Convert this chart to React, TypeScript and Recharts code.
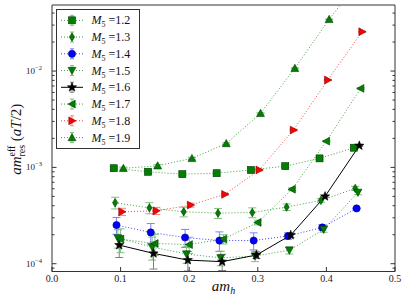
import React from "react";
import { LineChart, Line, XAxis, YAxis, ErrorBar, Legend } from "recharts";

// am_h values and the small horizontal shift each M5 series gets in the plot
const amH = [0.1, 0.15, 0.2, 0.25, 0.3, 0.35, 0.4, 0.45];
const xShift = [-0.01, -0.008, -0.006, -0.004, -0.002, 0, 0.002, 0.004];
const m5Labels = ["1.2", "1.3", "1.4", "1.5", "1.6", "1.7", "1.8", "1.9"];

// am_res^eff values
const mres12 = [9.8e-4, 9.0e-4, 8.5e-4, 8.7e-4, 9.4e-4, 1.03e-3, 1.24e-3, 1.6e-3];
const mres13 = [4.3e-4, 3.8e-4, 3.46e-4, 3.35e-4, 3.4e-4, 3.87e-4, 4.54e-4, 6.05e-4];
const mres14 = [2.52e-4, 2.11e-4, 1.87e-4, 1.74e-4, 1.74e-4, 1.94e-4, 2.38e-4, 3.75e-4];
const mres15 = [1.85e-4, 1.49e-4, 1.26e-4, 1.15e-4, 1.2e-4, 1.38e-4, 2.27e-4, 5.5e-4];
const mres16 = [1.56e-4, 1.28e-4, 1.09e-4, 1.05e-4, 1.23e-4, 1.98e-4, 5.0e-4, 1.68e-3];
const mres17 = [1.8e-4, 1.62e-4, 1.58e-4, 1.8e-4, 2.68e-4, 5.93e-4, 1.87e-3, 6.6e-3];
const mres18 = [3.46e-4, 3.54e-4, 4.06e-4, 5.25e-4, 9.4e-4, 2.44e-3, 8.07e-3, 2.56e-2];
const mres19 = [9.77e-4, 1.04e-3, 1.24e-3, 1.77e-3, 3.64e-3, 1.07e-2, 3.44e-2, 0.1];

// error bars
const err12 = [4e-5, 3e-5, 3e-5, 3e-5, 3e-5, 3e-5, 3e-5, 4e-5];
const err13 = [6e-5, 5e-5, 4e-5, 4e-5, 4e-5, 3e-5, 2e-5, 3e-5];
const err14 = [5e-5, 5e-5, 4e-5, 4e-5, 3.5e-5, 1.5e-5, 1.5e-5, 0.5e-5];
const err15 = [4e-5, 4e-5, 2.5e-5, 2e-5, 1.5e-5, 1.2e-5, 1.5e-5, 3e-5];
const err16 = [4e-5, 4e-5, 2.5e-5, 2e-5, 1e-5, 1e-5, 1e-5, 3e-5];
const err17 = [5e-5, 4e-5, 3e-5, 2e-5, 1.5e-5, 2e-5, 3e-5, 1e-4];
const err18 = [3e-5, 3e-5, 2e-5, 1e-5, 2e-5, 5e-5, 1e-4, 3e-4];
const err19 = [3e-5, 3e-5, 3e-5, 3e-5, 5e-5, 1e-4, 3e-4, 0];

const xTicks = [0, 0.1, 0.2, 0.3, 0.4, 0.5];
const xTickLabels = ["0.0", "0.1", "0.2", "0.3", "0.4", "0.5"];
const yMajorTicks = [1e-4, 1e-3, 1e-2];
const yTickExponents = ["\u22124", "\u22123", "\u22122"];
const yAllTicks = [
  9e-5, 1e-4, 2e-4, 3e-4, 4e-4, 5e-4, 6e-4, 7e-4, 8e-4, 9e-4,
  1e-3, 2e-3, 3e-3, 4e-3, 5e-3, 6e-3, 7e-3, 8e-3, 9e-3,
  1e-2, 2e-2, 3e-2, 4e-2,
];
const yDomain = [8.3e-5, 0.0485];

const values = [mres12, mres13, mres14, mres15, mres16, mres17, mres18, mres19];
const errors = [err12, err13, err14, err15, err16, err17, err18, err19];

const GREEN = "#008000";
const series = [
  { shape: "square", color: GREEN, edge: "#003a00", bar: "#7fbf7f", dash: "1 2" },
  { shape: "thin_diamond", color: GREEN, edge: "#003a00", bar: "#7fbf7f", dash: "1 2" },
  { shape: "circle", color: "#0000ff", edge: "#00007a", bar: "#7f7fff", dash: "1 2" },
  { shape: "tri_down", color: GREEN, edge: "#003a00", bar: "#7fbf7f", dash: "1 2" },
  { shape: "star", color: "#000000", edge: "#000000", bar: "#7f7f7f", dash: undefined },
  { shape: "tri_left", color: GREEN, edge: "#003a00", bar: "#7fbf7f", dash: "1 2" },
  { shape: "tri_right", color: "#ff0000", edge: "#7a0000", bar: "#ff7f7f", dash: "1 2" },
  { shape: "tri_up", color: GREEN, edge: "#003a00", bar: "#7fbf7f", dash: "1 2" },
];

const lineData = values.map((vals, s) =>
  vals.map((v, i) => ({ x: amH[i] + xShift[s], y: v, e: errors[s][i] }))
);

const AXIS = "#333";
const SERIF = "'Liberation Serif', 'DejaVu Serif', serif";

function Marker({ shape, cx, cy, fill, stroke }: any) {
  const sw = 0.6;
  switch (shape) {
    case "square":
      return <rect x={cx - 3.5} y={cy - 3.5} width={7} height={7} fill={fill} stroke={stroke} strokeWidth={sw} />;
    case "thin_diamond":
      return <polygon points={`${cx},${cy - 4.2} ${cx + 2.6},${cy} ${cx},${cy + 4.2} ${cx - 2.6},${cy}`} fill={fill} stroke={stroke} strokeWidth={sw} />;
    case "circle":
      return <circle cx={cx} cy={cy} r={3.6} fill={fill} stroke={stroke} strokeWidth={sw} />;
    case "tri_down":
      return <polygon points={`${cx - 3.9},${cy - 3.2} ${cx + 3.9},${cy - 3.2} ${cx},${cy + 4}`} fill={fill} stroke={stroke} strokeWidth={sw} />;
    case "tri_up":
      return <polygon points={`${cx},${cy - 4} ${cx - 3.9},${cy + 3.2} ${cx + 3.9},${cy + 3.2}`} fill={fill} stroke={stroke} strokeWidth={sw} />;
    case "tri_left":
      return <polygon points={`${cx - 4},${cy} ${cx + 3.2},${cy - 3.9} ${cx + 3.2},${cy + 3.9}`} fill={fill} stroke={stroke} strokeWidth={sw} />;
    case "tri_right":
      return <polygon points={`${cx + 4},${cy} ${cx - 3.2},${cy - 3.9} ${cx - 3.2},${cy + 3.9}`} fill={fill} stroke={stroke} strokeWidth={sw} />;
    case "star": {
      const pts: string[] = [];
      for (let k = 0; k < 10; k++) {
        const r = k % 2 === 0 ? 4.8 : 2;
        const a = -Math.PI / 2 + (k * Math.PI) / 5;
        pts.push(`${cx + r * Math.cos(a)},${cy + r * Math.sin(a)}`);
      }
      return <polygon points={pts.join(" ")} fill={fill} stroke={stroke} strokeWidth={sw} />;
    }
    default:
      return null;
  }
}

const BottomTick = ({ x, y, payload }: any) => (
  <g>
    <line x1={x} x2={x} y1={y} y2={y - 4.5} stroke={AXIS} />
    <text x={x} y={y + 10.5} textAnchor="middle" fontSize={10} fontFamily={SERIF} fill="#222">
      {xTickLabels[xTicks.indexOf(payload.value)]}
    </text>
  </g>
);

const TopTick = ({ x, y }: any) => <line x1={x} x2={x} y1={y} y2={y + 4.5} stroke={AXIS} />;

const LeftTick = ({ x, y, payload }: any) => {
  const k = yMajorTicks.indexOf(payload.value);
  const len = k >= 0 ? 4.5 : 2.5;
  return (
    <g>
      <line x1={x} x2={x + len} y1={y} y2={y} stroke={AXIS} />
      {k >= 0 && (
        <text x={x - 10} y={y + 3} textAnchor="end" fontSize={9} fontFamily={SERIF} fill="#222">
          10
          <tspan fontSize={6.5} dy={-4}>{yTickExponents[k]}</tspan>
        </text>
      )}
    </g>
  );
};

const RightTick = ({ x, y, payload }: any) => {
  const len = yMajorTicks.includes(payload.value) ? 4.5 : 2.5;
  return <line x1={x} x2={x - len} y1={y} y2={y} stroke={AXIS} />;
};

const YTitle = ({ viewBox }: any) => {
  const cx = 21;
  const cy = viewBox.y + viewBox.height / 2 + 1;
  return (
    <text transform={`rotate(-90, ${cx}, ${cy})`} x={cx} y={cy} textAnchor="middle" fontSize={15} fontFamily={SERIF} fill="#111">
      <tspan fontStyle="italic">am</tspan>
      <tspan fontSize={10} dy={-6}>eff</tspan>
      <tspan fontSize={10} dx={-11} dy={10}>res</tspan>
      <tspan dy={-4}> (</tspan>
      <tspan fontStyle="italic">aT</tspan>
      <tspan>/2)</tspan>
    </text>
  );
};

const XTitle = ({ viewBox }: any) => {
  const cx = viewBox.x + viewBox.width / 2;
  return (
    <text x={cx} y={viewBox.y + 19.5} textAnchor="middle" fontSize={15} fontFamily={SERIF} fill="#111">
      <tspan fontStyle="italic">am</tspan>
      <tspan fontStyle="italic" fontSize={10} dy={3}>h</tspan>
    </text>
  );
};

function LegendBox() {
  return (
    <svg width={84} height={140} style={{ display: "block" }}>
      <rect x={0.5} y={0.5} width={83} height={139} fill="#fff" stroke={AXIS} />
      {series.map((s, i) => {
        const y = 11.3 + i * 16.75;
        return (
          <g key={i}>
            <line x1={5} x2={27} y1={y} y2={y} stroke={s.color} strokeDasharray={s.dash} strokeOpacity={s.dash ? 0.75 : 1} />
            <line x1={16} x2={16} y1={y - 5} y2={y + 5} stroke={s.bar} />
            <line x1={14} x2={18} y1={y - 5} y2={y - 5} stroke={s.bar} />
            <line x1={14} x2={18} y1={y + 5} y2={y + 5} stroke={s.bar} />
            <Marker shape={s.shape} cx={16} cy={y} fill={s.color} stroke={s.edge} />
            <text x={35.5} y={y + 4} fontSize={12} fontFamily={SERIF} fill="#111">
              <tspan fontStyle="italic">M</tspan>
              <tspan fontSize={8} dy={3}>5</tspan>
              <tspan dy={-3}>{" =" + m5Labels[i]}</tspan>
            </text>
          </g>
        );
      })}
    </svg>
  );
}

export default function App() {
  return (
    <div style={{ position: "absolute", left: 0, top: 0, background: "#fff" }}>
      <LineChart width={407} height={308} margin={{ top: 4, right: 11, bottom: 0, left: 0 }}>
        <XAxis
          xAxisId="bottom"
          dataKey="x"
          type="number"
          domain={[0, 0.5]}
          ticks={xTicks}
          interval={0}
          height={36.5}
          tickSize={0}
          tickMargin={0}
          tickLine={false}
          tick={<BottomTick />}
          stroke={AXIS}
          label={<XTitle />}
        />
        <XAxis
          xAxisId="top"
          orientation="top"
          type="number"
          domain={[0, 0.5]}
          ticks={xTicks}
          interval={0}
          height={1}
          tickSize={0}
          tickMargin={0}
          tickLine={false}
          tick={<TopTick />}
          stroke={AXIS}
        />
        <YAxis
          yAxisId="left"
          scale="log"
          type="number"
          domain={yDomain}
          allowDataOverflow
          ticks={yAllTicks}
          interval={0}
          width={52}
          tickSize={0}
          tickMargin={0}
          tickLine={false}
          tick={<LeftTick />}
          stroke={AXIS}
          label={<YTitle />}
        />
        <YAxis
          yAxisId="right"
          orientation="right"
          scale="log"
          type="number"
          domain={yDomain}
          allowDataOverflow
          ticks={yAllTicks}
          interval={0}
          width={1}
          tickSize={0}
          tickMargin={0}
          tickLine={false}
          tick={<RightTick />}
          stroke={AXIS}
        />
        {series.map((s, i) => (
          <Line
            key={m5Labels[i]}
            xAxisId="bottom"
            yAxisId="left"
            data={lineData[i]}
            dataKey="y"
            type="linear"
            stroke={s.color}
            strokeWidth={1}
            strokeDasharray={s.dash}
            strokeOpacity={s.dash ? 0.75 : 1}
            isAnimationActive={false}
            activeDot={false}
            legendType="none"
            dot={(p: any) =>
              p.cx == null || p.cy == null || isNaN(p.cy) ? (
                <g key={`d${i}-${p.index}`} />
              ) : (
                <Marker key={`d${i}-${p.index}`} shape={s.shape} cx={p.cx} cy={p.cy} fill={s.color} stroke={s.edge} />
              )
            }
          >
            <ErrorBar dataKey="e" direction="y" width={4} stroke={s.bar} strokeWidth={1} isAnimationActive={false} />
          </Line>
        ))}
        <Legend
          layout="vertical"
          align="center"
          verticalAlign="middle"
          wrapperStyle={{ position: "absolute", left: 56, top: 8.5, width: 84, height: 140 }}
          content={() => <LegendBox />}
        />
      </LineChart>
    </div>
  );
}
